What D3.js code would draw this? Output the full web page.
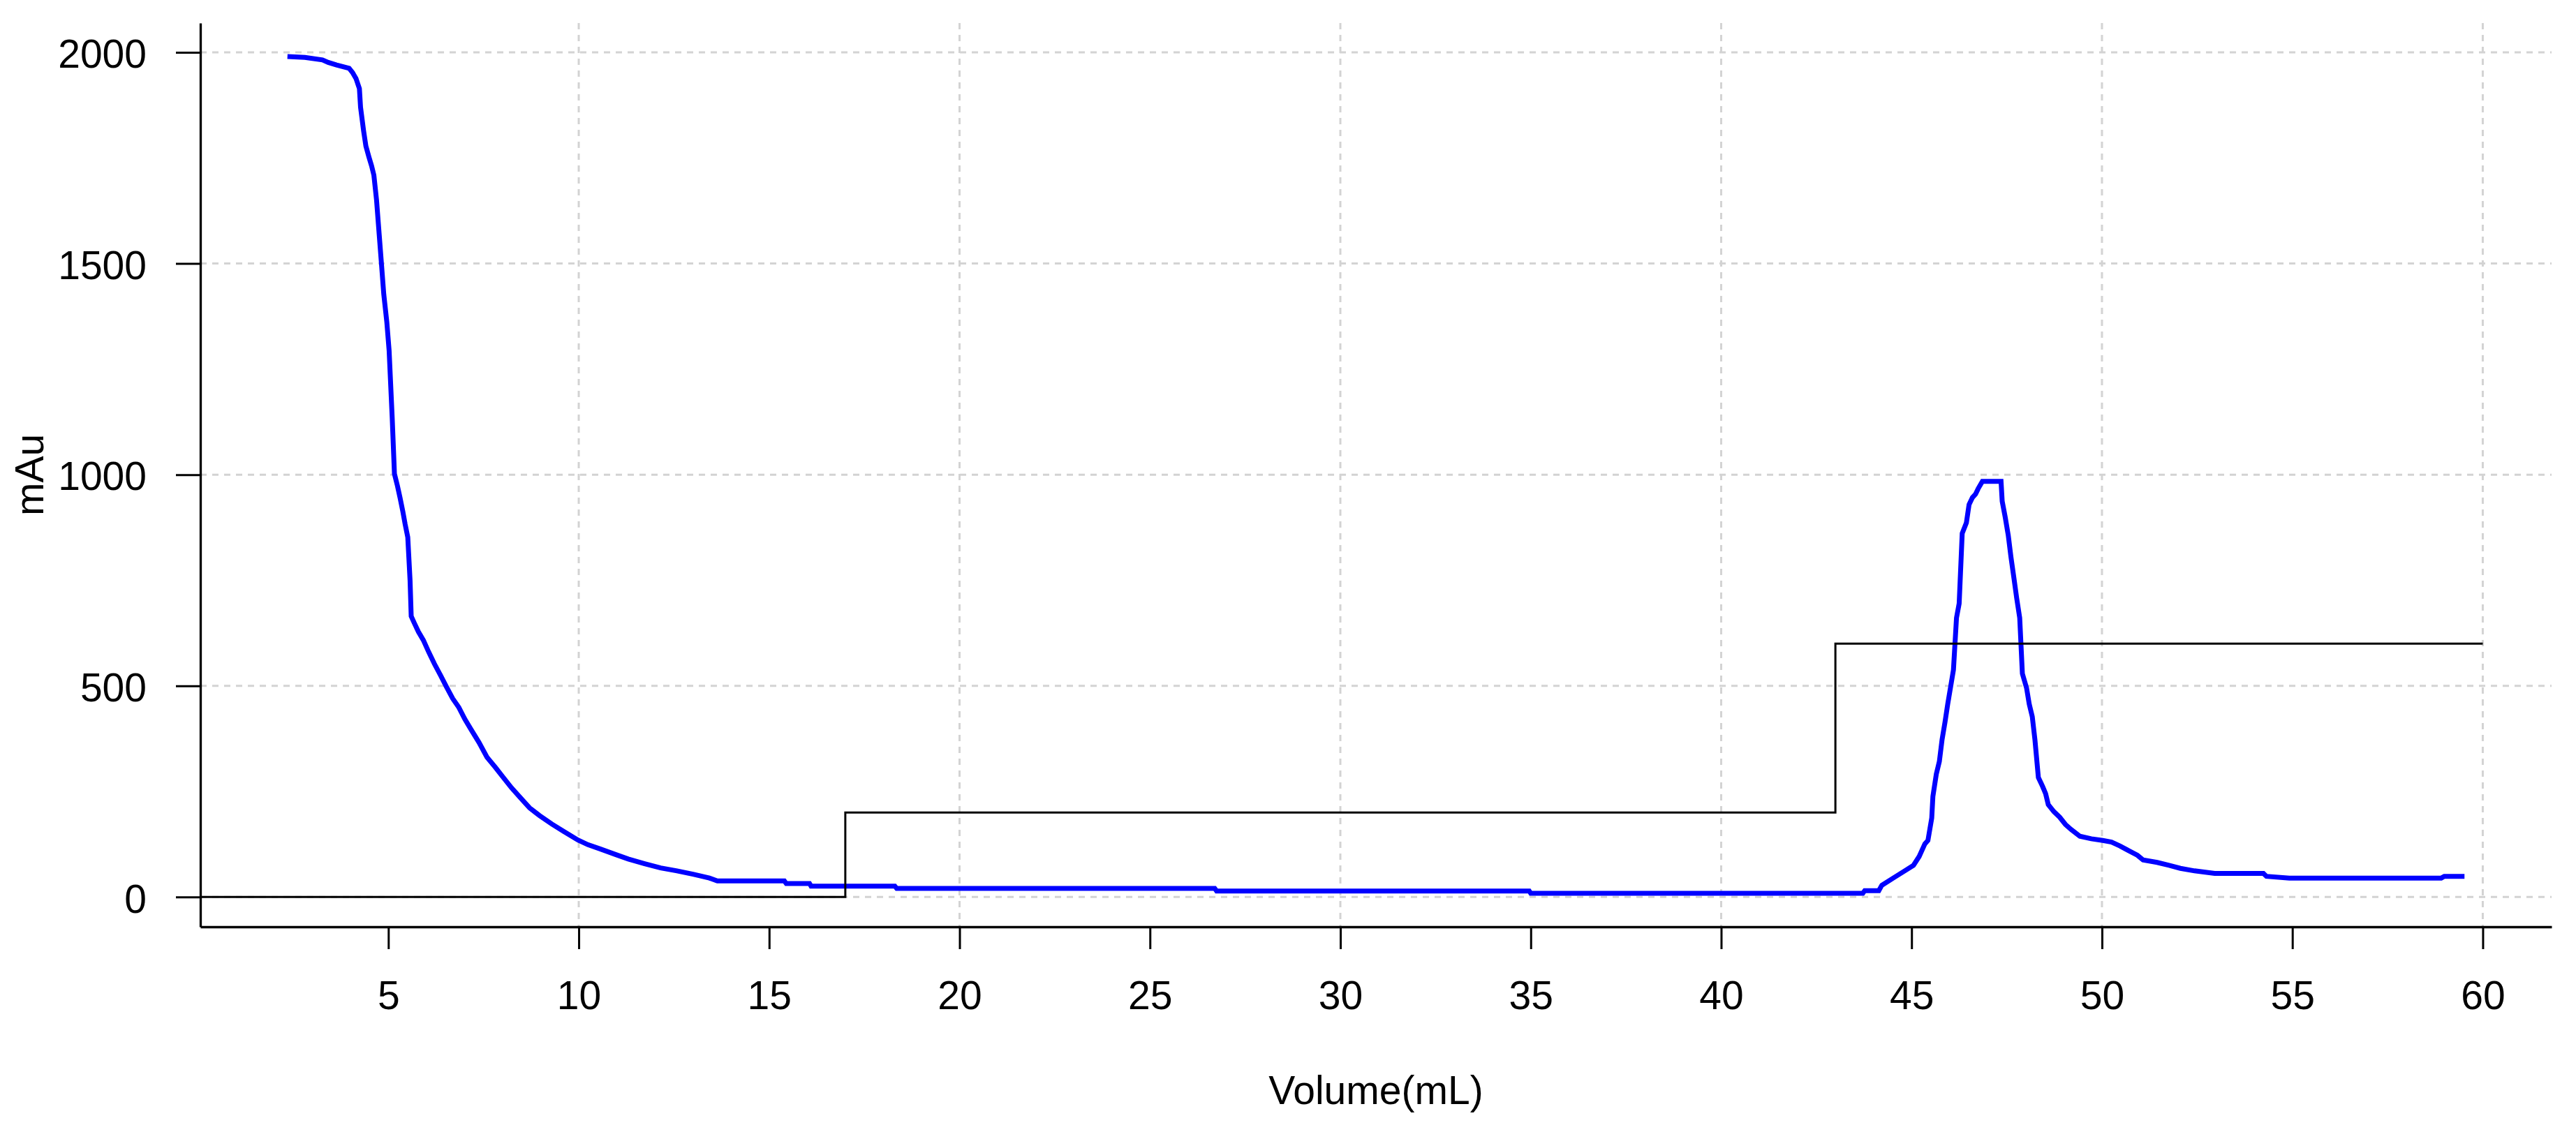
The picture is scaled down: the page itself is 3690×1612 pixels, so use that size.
<!DOCTYPE html>
<html>
<head>
<meta charset="utf-8">
<script src="https://cdn.jsdelivr.net/npm/d3@7/dist/d3.min.js"></script>
<style>
  html, body { margin: 0; padding: 0; background: #ffffff; }
  svg { display: block; }
  text { font-family: "Liberation Sans", Arial, "DejaVu Sans", sans-serif; fill: #000; }
</style>
</head>
<body>
<svg id="chart" width="3690" height="1612"></svg>
<script>
// UV absorbance trace (mAu) against elution volume (mL)
const volume = [
  2.35, 2.81, 3.27, 3.42, 3.64, 3.97, 4.06, 4.15, 4.24, 4.27, 4.35, 4.41, 4.49, 4.56, 4.62,
  4.69, 4.76, 4.82, 4.88, 4.96, 5.02, 5.10, 5.16, 5.24, 5.31, 5.38, 5.44, 5.51, 5.57, 5.60,
  5.68, 5.79, 5.92, 6.06, 6.21, 6.37, 6.53, 6.69, 6.85, 7.01, 7.17, 7.38, 7.59, 7.81, 8.02,
  8.23, 8.44, 8.71, 8.97, 9.29, 9.61, 9.98, 10.24, 10.56, 10.99, 11.30, 11.73, 12.15, 12.58,
  13.00, 13.43, 13.64, 15.40, 15.45, 16.06, 16.10, 18.30, 18.35, 26.70, 26.75, 34.96, 35.00,
  43.72, 43.77, 44.14, 44.22, 44.52, 44.82, 45.05, 45.20, 45.35, 45.43, 45.53, 45.56, 45.65,
  45.73, 45.80, 45.88, 45.95, 46.03, 46.10, 46.18, 46.25, 46.33, 46.44, 46.51, 46.60, 46.68,
  46.75, 46.86, 47.35, 47.38, 47.46, 47.54, 47.61, 47.69, 47.76, 47.84, 47.91, 48.02, 48.09,
  48.17, 48.24, 48.33, 48.44, 48.52, 48.59, 48.74, 48.89, 49.04, 49.19, 49.42, 49.72, 50.02,
  50.25, 50.47, 50.70, 50.93, 51.08, 51.45, 51.76, 52.06, 52.43, 52.96, 54.24, 54.32, 54.92,
  58.91, 58.99, 59.52
];
const absorbance = [
  1990, 1988, 1982, 1976, 1970, 1962, 1952, 1938, 1914, 1870, 1814, 1778, 1752, 1731, 1709,
  1650, 1568, 1498, 1427, 1361, 1294, 1137, 1002, 973, 944, 913, 883, 852, 750, 665,
  649, 628, 608, 580, 552, 525, 497, 470, 449, 421, 397, 366, 331, 307, 283,
  259, 238, 211, 193, 173, 155, 135, 124, 114, 100, 90, 79, 69, 62,
  54, 45, 38, 38, 32, 32, 26, 26, 20.5, 20.5, 14.4, 14.4, 8.8,
  8.8, 15, 15, 28, 45, 62, 75, 96, 126, 134, 187, 238, 291,
  321, 372, 415, 457, 500, 538, 661, 695, 861, 886, 929, 946, 954,
  967, 984, 984, 937, 899, 856, 805, 754, 708, 661, 529, 495, 457,
  427, 372, 283, 262, 245, 219, 202, 189, 172, 160, 144, 138, 134,
  130, 121, 110, 99, 88, 82, 75, 68, 62, 56, 56, 49, 45,
  45, 49, 49
];

// Step gradient trace
const gradVolume = [0, 17, 17, 43, 43, 60];
const gradValue  = [0, 0, 200, 200, 600, 600];

// Axis ticks and grid
const xTicks = [5, 10, 15, 20, 25, 30, 35, 40, 45, 50, 55, 60];
const yTicks = [0, 500, 1000, 1500, 2000];
const xGrid  = [10, 20, 30, 40, 50, 60];
const yGrid  = [0, 500, 1000, 1500, 2000];

const xLabel = "Volume(mL)";
const yLabel = "mAu";

// ---- layout ----
const plot = { left: 287, right: 3655, top: 33, bottom: 1328 };
const FONT = 57;

// R-style 4% padding on data range
function padded(ext) { const d = (ext[1] - ext[0]) * 0.04; return [ext[0] - d, ext[1] + d]; }
const x = d3.scaleLinear().domain(padded(d3.extent(volume))).range([plot.left, plot.right]);
const y = d3.scaleLinear().domain(padded(d3.extent(absorbance))).range([plot.bottom, plot.top]);

const svg = d3.select("#chart");
svg.append("rect").attr("width", 3690).attr("height", 1612).attr("fill", "#fff");

const defs = svg.append("defs");
defs.append("clipPath").attr("id", "clip").append("rect")
  .attr("x", plot.left).attr("y", plot.top)
  .attr("width", plot.right - plot.left).attr("height", plot.bottom - plot.top);

// grid
const grid = svg.append("g").attr("stroke", "#d3d3d3").attr("stroke-width", 3)
  .attr("stroke-dasharray", "9,8").attr("fill", "none");
grid.selectAll("line.v").data(xGrid).join("line").attr("class", "v")
  .attr("x1", d => x(d)).attr("x2", d => x(d)).attr("y1", plot.top).attr("y2", plot.bottom);
grid.selectAll("line.h").data(yGrid).join("line").attr("class", "h")
  .attr("y1", d => y(d)).attr("y2", d => y(d)).attr("x1", plot.left).attr("x2", plot.right);

// curves
const pts = volume.map((v, i) => [v, absorbance[i]]);
const line = d3.line().x(d => x(d[0])).y(d => y(d[1]));
svg.append("path").datum(pts).attr("d", line)
  .attr("fill", "none").attr("stroke", "#0000ff").attr("stroke-width", 7)
  .attr("stroke-linejoin", "miter").attr("stroke-linecap", "butt");

const gpts = gradVolume.map((v, i) => [v, gradValue[i]]);
svg.append("path").datum(gpts).attr("d", line).attr("clip-path", "url(#clip)")
  .attr("fill", "none").attr("stroke", "#000").attr("stroke-width", 3);

// axes
const xAxis = d3.axisBottom(x).tickValues(xTicks).tickFormat(d3.format("d"))
  .tickSize(32).tickSizeOuter(0).tickPadding(46);
const yAxis = d3.axisLeft(y).tickValues(yTicks).tickFormat(d3.format("d"))
  .tickSize(35).tickSizeOuter(0).tickPadding(42);

const gx = svg.append("g").attr("transform", `translate(0,${plot.bottom})`).call(xAxis);
const gy = svg.append("g").attr("transform", `translate(${plot.left},0)`).call(yAxis);
[gx, gy].forEach(g => {
  g.select(".domain").attr("stroke", "#000").attr("stroke-width", 3.3);
  g.selectAll(".tick line").attr("stroke", "#000").attr("stroke-width", 3);
  g.selectAll(".tick text").attr("font-size", FONT)
    .attr("font-family", '"Liberation Sans", Arial, sans-serif').attr("fill", "#000");
});
gy.selectAll(".tick text").attr("dy", "0.38em");

// axis titles
svg.append("text").attr("x", (plot.left + plot.right) / 2).attr("y", 1582)
  .attr("text-anchor", "middle").attr("font-size", FONT).text(xLabel);
svg.append("text").attr("transform", `translate(62,${(plot.top + plot.bottom) / 2}) rotate(-90)`)
  .attr("text-anchor", "middle").attr("font-size", FONT).text(yLabel);
</script>
</body>
</html>
